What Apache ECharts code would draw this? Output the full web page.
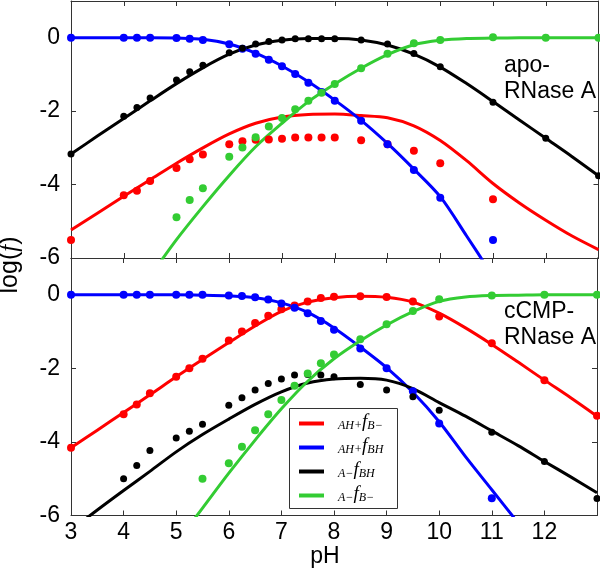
<!DOCTYPE html>
<html>
<head>
<meta charset="utf-8">
<script src="https://cdn.jsdelivr.net/npm/echarts@6/dist/echarts.min.js"></script>
<style>
html,body{margin:0;padding:0;background:#fff;}
#chart{width:600px;height:579px;}
</style>
</head>
<body>
<div id="chart"></div>
<script>
// x positions of measured points and of fitted curve samples
const pHPts = [3, 4, 4.25, 4.5, 5, 5.25, 5.5, 6, 6.25, 6.5, 6.75, 7, 7.25, 7.5, 7.75, 8, 8.5, 9, 9.5, 10, 11, 12, 13];
const pHFit = [3, 3.5, 4, 4.5, 5, 5.5, 6, 6.5, 7, 7.5, 8, 8.5, 9, 9.5, 10, 10.5, 11, 11.5, 12, 12.5, 13];

// apo-RNase A (top panel) — measured points
const apoRedPts   = [-5.51, -4.29, -4.17, -3.90, -3.55, -3.31, -3.18, -2.90, -2.82, -2.78, -2.77, -2.75, -2.72, -2.72, -2.72, -2.72, -2.79, -2.90, -3.08, -3.42, -4.40, null, null];
const apoBluePts  = [0, 0, 0, 0, -0.01, -0.03, -0.06, -0.18, -0.30, -0.44, -0.60, -0.78, -0.99, -1.23, -1.48, -1.72, -2.26, -2.90, -3.60, -4.36, -5.51, null, null];
const apoBlackPts = [-3.17, -2.14, -1.90, -1.64, -1.15, -0.93, -0.75, -0.41, -0.29, -0.17, -0.10, -0.06, -0.03, -0.03, -0.03, -0.03, -0.06, -0.17, -0.43, -0.79, -1.76, -2.74, -3.76];
const apoGreenPts = [null, null, null, null, -4.89, -4.42, -4.10, -3.24, -2.99, -2.71, -2.42, -2.19, -1.95, -1.72, -1.50, -1.26, -0.83, -0.44, -0.15, -0.06, 0.01, 0, 0];
// apo-RNase A — fitted curves
const apoRedFit   = [-5.24, -4.78, -4.32, -3.87, -3.42, -3.00, -2.62, -2.33, -2.16, -2.09, -2.08, -2.12, -2.18, -2.40, -2.80, -3.35, -3.97, -4.50, -4.97, -5.40, -5.77];
const apoBlueFit  = [0, 0, 0, 0, -0.01, -0.04, -0.17, -0.42, -0.77, -1.20, -1.70, -2.25, -2.88, -3.58, -4.33, -5.40, -6.50, null, null, null, null];
const apoBlackFit = [-3.17, -2.68, -2.20, -1.72, -1.25, -0.82, -0.45, -0.20, -0.07, -0.02, -0.02, -0.06, -0.20, -0.45, -0.80, -1.25, -1.74, -2.24, -2.74, -3.24, -3.76];
const apoGreenFit = [null, null, null, -6.50, -5.50, -4.60, -3.75, -2.97, -2.33, -1.74, -1.26, -0.83, -0.46, -0.19, -0.07, -0.02, -0.01, 0, 0, 0, 0];

// cCMP-RNase A (bottom panel) — measured points
const ccRedPts   = [-4.16, -3.25, -2.98, -2.68, -2.23, -2.00, -1.74, -1.24, -1.00, -0.77, -0.57, -0.39, -0.29, -0.18, -0.09, -0.05, -0.04, -0.06, -0.18, -0.59, -1.32, -2.32, -3.29];
const ccBluePts  = [0, 0, 0, 0, 0, 0, 0, -0.02, -0.03, -0.07, -0.13, -0.24, -0.35, -0.50, -0.71, -0.95, -1.46, -2.00, -2.62, -3.50, -5.53, null, null];
const ccBlackPts = [null, -5.00, -4.64, -4.23, -3.89, -3.71, -3.52, -3.00, -2.80, -2.59, -2.41, -2.29, -2.18, -2.17, -2.18, -2.23, -2.44, -2.59, -2.77, -3.14, -3.74, -4.53, -5.54];
const ccGreenPts = [null, null, null, null, null, null, -5.00, -4.58, -4.13, -3.68, -3.25, -2.86, -2.47, -2.14, -1.86, -1.62, -1.21, -0.80, -0.44, -0.12, -0.02, 0, 0];
// cCMP-RNase A — fitted curves
const ccRedFit   = [-4.16, -3.68, -3.20, -2.72, -2.23, -1.76, -1.30, -0.85, -0.45, -0.20, -0.08, -0.04, -0.07, -0.20, -0.50, -0.90, -1.35, -1.83, -2.32, -2.80, -3.30];
const ccBlueFit  = [0, 0, 0, 0, 0, -0.01, -0.03, -0.08, -0.22, -0.48, -0.90, -1.42, -1.98, -2.65, -3.45, -4.40, -5.30, -6.20, null, null, null];
const ccBlackFit = [-6.40, -5.85, -5.32, -4.80, -4.27, -3.80, -3.38, -2.98, -2.64, -2.40, -2.29, -2.27, -2.32, -2.55, -2.93, -3.30, -3.70, -4.10, -4.53, -4.95, -5.38];
const ccGreenFit = [null, null, null, null, -6.75, -5.80, -4.85, -3.95, -3.10, -2.35, -1.74, -1.25, -0.82, -0.46, -0.18, -0.06, -0.02, -0.01, 0, 0, 0];

// legend / labels
const seriesNames  = ['AH+fB-', 'AH+fBH', 'A-fBH', 'A-fB-'];
const legendPrefix = ['AH+', 'AH+', 'A\u2212', 'A\u2212'];
const legendSuffix = ['B\u2212', 'BH', 'BH', 'B\u2212'];
const colors = ['#ff0000', '#0000ff', '#000000', '#33cc33'];
const xTicks = [3, 4, 5, 6, 7, 8, 9, 10, 11, 12];
const yTicks = [-6, -4, -2, 0];
const panelLabels = ['apo-\nRNase A', 'cCMP-\nRNase A'];

const SANS = '"Liberation Sans", Arial, sans-serif';
const SERIF = '"Liberation Serif", "DejaVu Serif", serif';

function pairs(xs, ys) {
  const out = [];
  for (let i = 0; i < xs.length; i++) if (ys[i] !== null && ys[i] !== undefined) out.push([xs[i], ys[i]]);
  return out;
}

const panels = [
  { fits: [apoRedFit, apoBlueFit, apoBlackFit, apoGreenFit], pts: [apoRedPts, apoBluePts, apoBlackPts, apoGreenPts] },
  { fits: [ccRedFit, ccBlueFit, ccBlackFit, ccGreenFit], pts: [ccRedPts, ccBluePts, ccBlackPts, ccGreenPts] }
];

const axisColor = '#333';
function xAx(grid, pos, labels) {
  return {
    type: 'value', gridIndex: grid, position: pos, min: 3, max: 13, interval: 1,
    axisLine: { show: true, onZero: false, lineStyle: { color: axisColor, width: 1 } },
    axisTick: { show: true, inside: true, length: 5, lineStyle: { color: axisColor } },
    splitLine: { show: false },
    axisLabel: labels ? {
      show: true, margin: 6, color: '#000', fontSize: 23, fontFamily: SANS,
      formatter: v => (xTicks.indexOf(v) >= 0 ? String(v) : '')
    } : { show: false }
  };
}
function yAx(grid, pos, labels) {
  return {
    type: 'value', gridIndex: grid, position: pos, min: -6, max: 1, interval: 2,
    axisLine: { show: true, onZero: false, lineStyle: { color: axisColor, width: 1 } },
    axisTick: { show: true, inside: true, length: 5, lineStyle: { color: axisColor } },
    splitLine: { show: false },
    axisLabel: labels ? {
      show: true, margin: 11, color: '#000', fontSize: 23, fontFamily: SANS,
      formatter: v => (yTicks.indexOf(v) >= 0 ? String(v) : '')
    } : { show: false }
  };
}

const series = [];
panels.forEach((p, gi) => {
  p.fits.forEach((f, k) => {
    series.push({
      name: seriesNames[k], type: 'line', xAxisIndex: gi * 2, yAxisIndex: gi * 2,
      data: pairs(pHFit, f), smooth: 0.3, showSymbol: false, symbol: 'none',
      lineStyle: { width: 3, color: colors[k] }, itemStyle: { color: colors[k] },
      clip: true, z: 2
    });
  });
  p.pts.forEach((d, k) => {
    series.push({
      name: 'pts' + gi + k, type: 'scatter', xAxisIndex: gi * 2, yAxisIndex: gi * 2,
      data: pairs(pHPts, d), symbol: 'circle', symbolSize: k === 2 ? 7 : 8,
      itemStyle: { color: colors[k], opacity: 1 }, clip: true, z: 3
    });
  });
});

const chart = echarts.init(document.getElementById('chart'), null, { renderer: 'canvas' });
chart.setOption({
  animation: false,
  backgroundColor: '#fff',
  grid: [
    { left: 71, top: 1, width: 527.5, height: 257, containLabel: false },
    { left: 71, top: 258, width: 527.5, height: 257.5, containLabel: false }
  ],
  xAxis: [xAx(0, 'bottom', false), xAx(0, 'top', false), xAx(1, 'bottom', true), xAx(1, 'top', false)],
  yAxis: [yAx(0, 'left', true), yAx(0, 'right', false), yAx(1, 'left', true), yAx(1, 'right', false)],
  legend: {
    show: true, orient: 'vertical', left: 299, top: 412.5, padding: 0, itemGap: 5,
    itemWidth: 25, itemHeight: 4, icon: 'rect', selectedMode: false, z: 6,
    data: seriesNames.map((n, k) => ({ name: n, icon: 'rect', itemStyle: { color: colors[k] } })),
    formatter: function (name) {
      const k = seriesNames.indexOf(name);
      return '{p|' + legendPrefix[k] + '}{f|f}{s|' + legendSuffix[k] + '}';
    },
    textStyle: {
      lineHeight: 16,
      rich: {
        p: { fontFamily: SERIF, fontStyle: 'italic', fontSize: 12, lineHeight: 16, verticalAlign: 'bottom', padding: [0, 0, 0, 9], color: '#000' },
        f: { fontFamily: SERIF, fontStyle: 'italic', fontSize: 19, lineHeight: 16, verticalAlign: 'bottom', color: '#000' },
        s: { fontFamily: SERIF, fontStyle: 'italic', fontSize: 12, lineHeight: 16, verticalAlign: 'bottom', color: '#000' }
      }
    }
  },
  graphic: [
    { type: 'rect', z: 5, shape: { x: 289.5, y: 408.5, width: 108, height: 100 }, style: { fill: '#fff', stroke: '#333', lineWidth: 1 } },
    { type: 'text', z: 5, left: 504, top: 53, style: { text: panelLabels[0], font: '23px ' + SANS, lineHeight: 25.5, fill: '#000' } },
    { type: 'text', z: 5, left: 504, top: 299, style: { text: panelLabels[1], font: '23px ' + SANS, lineHeight: 25.5, fill: '#000' } },
    { type: 'text', z: 5, x: 325, y: 557, style: { text: 'pH', font: '23px ' + SANS, fill: '#000', align: 'center', verticalAlign: 'middle' } },
    { type: 'text', z: 5, x: 10, y: 265, rotation: Math.PI / 2,
      style: {
        text: '{n|log(}{i|f}{n|)}', align: 'center', verticalAlign: 'middle',
        rich: {
          n: { fontFamily: SANS, fontSize: 25, fill: '#000', color: '#000' },
          i: { fontFamily: SERIF, fontStyle: 'italic', fontSize: 25, fill: '#000', color: '#000' }
        }
      }
    }
  ],
  series: series
});
</script>
</body>
</html>
